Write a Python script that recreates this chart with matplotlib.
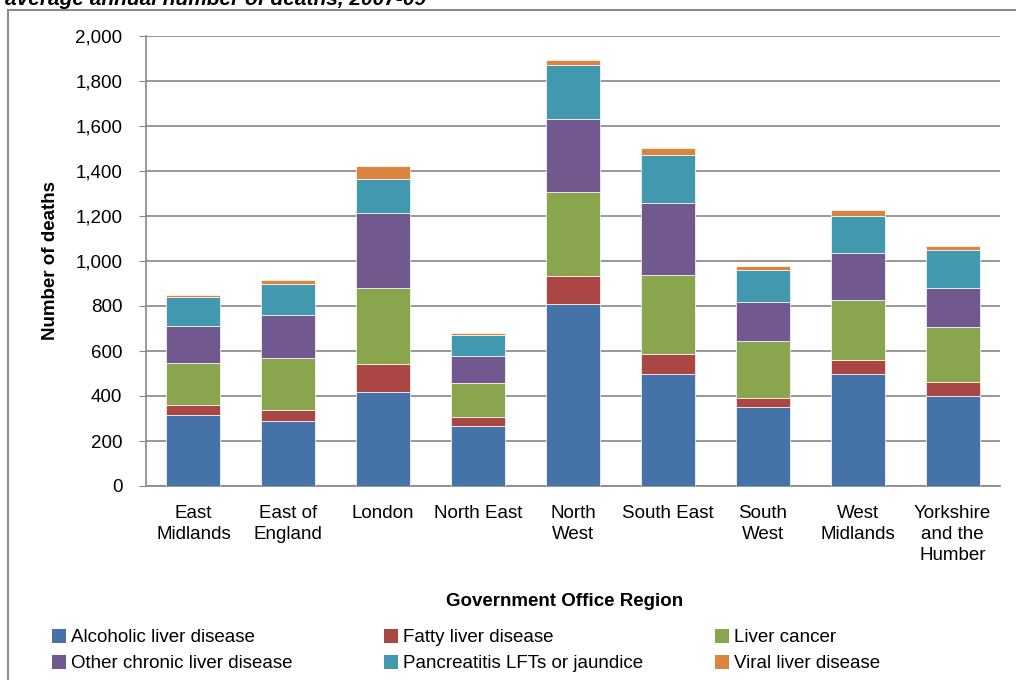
import numpy as np
import matplotlib.pyplot as plt
from matplotlib.patches import Rectangle, Patch

plt.rcParams['font.family'] = ['Liberation Sans', 'DejaVu Sans']

# Data: average annual number of deaths by region, 2007-09
regions = ["East\nMidlands", "East of\nEngland", "London", "North East", "North\nWest",
           "South East", "South\nWest", "West\nMidlands", "Yorkshire\nand the\nHumber"]
alcoholic   = [314, 290, 418, 267, 809, 498, 353, 498, 401]
fatty       = [47, 49, 126, 38, 126, 87, 40, 64, 63]
cancer      = [186, 231, 337, 153, 370, 351, 250, 263, 243]
other       = [166, 191, 334, 118, 326, 320, 173, 209, 174]
pancreatic  = [128, 135, 151, 97, 239, 215, 145, 167, 166]
viral       = [8, 18, 58, 9, 25, 33, 17, 24, 18]

series = [
    ("Alcoholic liver disease", alcoholic, "#4572A7"),
    ("Fatty liver disease", fatty, "#AA4643"),
    ("Liver cancer", cancer, "#89A54E"),
    ("Other chronic liver disease", other, "#71588F"),
    ("Pancreatitis LFTs or jaundice", pancreatic, "#4198AF"),
    ("Viral liver disease", viral, "#DB843D"),
]

W, H = 1016, 680
fig = plt.figure(figsize=(W / 100, H / 100), dpi=100)

# outer chart frame (cut by the image edges)
fig.patches.append(Rectangle((8 / W, -0.05), 1.1, 1 - 10 / H + 0.05, transform=fig.transFigure,
                             fill=False, edgecolor="#8c8c8c", lw=1.5))

# title, mostly cropped off the top as in the source
fig.text(5 / W, 1 - 5 / H, "average annual number of deaths, 2007-09", fontsize=15,
         fontweight="bold", fontstyle="italic", ha="left", va="baseline")

ax = fig.add_axes([146 / W, 1 - 486 / H, (1000 - 146) / W, (486 - 36) / H])

x = np.arange(len(regions))
bottom = np.zeros(len(regions))
handles = []
for name, vals, col in series:
    ax.bar(x, vals, 0.57, bottom=bottom, color=col, edgecolor="white", linewidth=0.5, zorder=3)
    bottom += np.array(vals)
    handles.append(Patch(facecolor=col, edgecolor="none", label=name))

ax.set_xlim(-0.5, len(regions) - 0.5)
ax.set_ylim(0, 2000)
ax.set_yticks(np.arange(0, 2001, 200))
ax.set_yticklabels([f"{v:,}" for v in range(0, 2001, 200)], fontsize=13.5)
ax.yaxis.grid(True, color="#868686", lw=1.2, zorder=0)
ax.set_xticks(x)
ax.set_xticklabels(regions, fontsize=13.5, linespacing=1.3)
ax.tick_params(axis="x", length=0, pad=14)
ax.tick_params(axis="y", length=5, color="#868686", pad=12)

for s in ["top", "right"]:
    ax.spines[s].set_visible(False)
ax.spines["left"].set_color("#868686")
ax.spines["bottom"].set_color("#868686")
ax.spines["left"].set_linewidth(1.2)
ax.spines["bottom"].set_linewidth(1.2)

ax.set_ylabel("Number of deaths", fontsize=13.5, fontweight="bold", labelpad=12)
fig.text(565 / W, 1 - 601 / H, "Government Office Region", fontsize=13.5,
         fontweight="bold", ha="center", va="center")

# legend: three columns placed by hand, two rows each
col_x = [52, 384, 715]
for i, cx in enumerate(col_x):
    fig.legend(handles=[handles[i], handles[i + 3]], loc="upper left",
               bbox_to_anchor=(cx / W, 1 - 629 / H), frameon=False, fontsize=13.5,
               handlelength=0.75, handleheight=0.75, handletextpad=0.25,
               labelspacing=0.45, borderpad=0, borderaxespad=0)

fig.savefig("out.png", dpi=100)
